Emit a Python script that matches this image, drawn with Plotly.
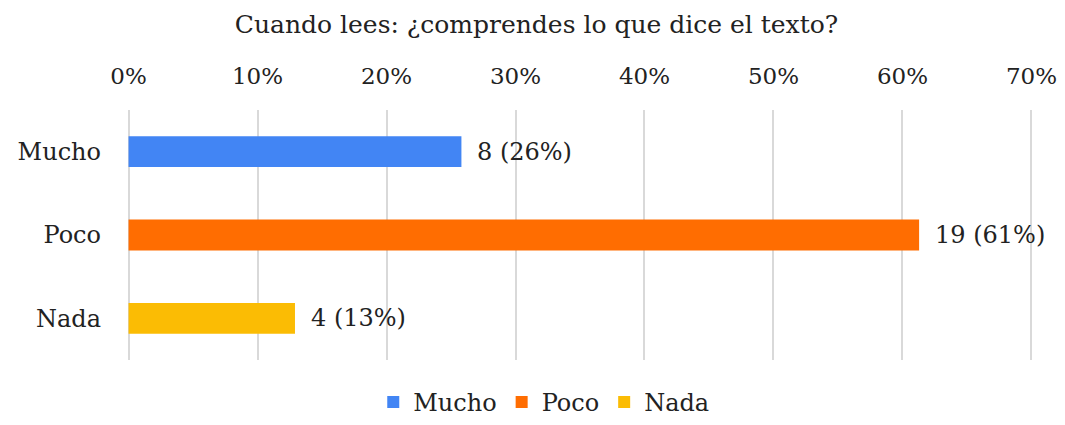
import plotly.graph_objects as go

categories = ["Mucho", "Poco", "Nada"]
counts = [8, 19, 4]
colors = ["#4285F4", "#FF6D01", "#FBBC04"]
tick_vals = [0, 10, 20, 30, 40, 50, 60, 70]
tick_text = ["0%", "10%", "20%", "30%", "40%", "50%", "60%", "70%"]
title_text = "Cuando lees: ¿comprendes lo que dice el texto?"

total = sum(counts)
pcts = [c / total * 100 for c in counts]

FONT = "DejaVu Serif"
TXT = "#222222"

fig = go.Figure()
for cat, c, p, col in zip(categories, counts, pcts, colors):
    fig.add_trace(go.Bar(
        y=[cat], x=[p], orientation="h", name=cat,
        marker=dict(color=col, line=dict(width=0)),
        width=0.37,
        cliponaxis=False,
    ))
    fig.add_annotation(x=p, y=cat, text=f"{c} ({round(p)}%)", showarrow=False,
                       xanchor="left", yanchor="middle", xshift=14,
                       font=dict(family=FONT, size=24, color=TXT))

fig.update_layout(
    width=1057, height=417,
    margin=dict(l=119, r=32, t=102, b=65),
    paper_bgcolor="white", plot_bgcolor="white",
    barmode="overlay",
    title=dict(text=title_text, x=0.5, xanchor="center", y=0.962, yanchor="middle",
               font=dict(family=FONT, size=25, color=TXT)),
    font=dict(family=FONT, color=TXT),
    showlegend=True,
    legend=dict(orientation="h", x=0.46, xanchor="center", yref="container",
                y=0.0, yanchor="bottom",
                font=dict(family=FONT, size=24, color=TXT),
                itemwidth=30, traceorder="normal"),
    xaxis=dict(side="top", range=[-0.12, 70.12], tickvals=tick_vals, ticktext=tick_text,
               showgrid=True, gridcolor="#d9d9d9", gridwidth=1.5,
               zeroline=False, showline=False, ticks="", automargin=False,
               tickfont=dict(family=FONT, size=23, color=TXT),
               ticklabelstandoff=20),
    yaxis=dict(categoryorder="array", categoryarray=categories, autorange="reversed",
               showgrid=False, zeroline=False, showline=False, ticks="", automargin=False,
               tickfont=dict(family=FONT, size=24, color=TXT),
               ticklabelstandoff=25),
)

fig.write_html("out.html")
